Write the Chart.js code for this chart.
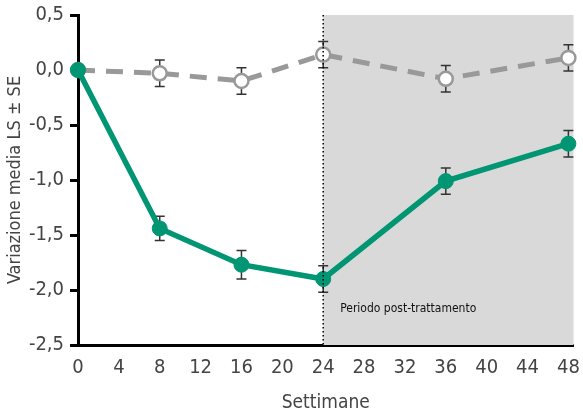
<!DOCTYPE html>
<html><head><meta charset="utf-8">
<script src="https://cdn.jsdelivr.net/npm/chart.js@4/dist/chart.umd.min.js"></script>
<style>html,body{margin:0;padding:0;background:#fff}#wrap{width:583px;height:414px}</style>
</head><body><div id="wrap"><canvas id="c" width="583" height="414"></canvas></div>
<script>
const weeks = [0, 8, 16, 24, 36, 48];
const treatment = [0, -1.44, -1.77, -1.90, -1.01, -0.67];
const treatmentSE = [0, 0.11, 0.13, 0.12, 0.12, 0.12];
const placebo = [0, -0.03, -0.10, 0.14, -0.08, 0.11];
const placeboSE = [0, 0.12, 0.12, 0.12, 0.12, 0.12];
const yTicks = [0.5, 0, -0.5, -1, -1.5, -2, -2.5];
const xTicks = [0, 4, 8, 12, 16, 20, 24, 28, 32, 36, 40, 44, 48];
const postStart = 24;
const annotation = 'Periodo post-trattamento';

const FONT = '"DejaVu Sans Condensed", "Liberation Sans Narrow", sans-serif';

const bgPlugin = {
  id: 'bg',
  beforeDatasetsDraw(chart) {
    const {ctx, chartArea, scales} = chart;
    const x0 = scales.x.getPixelForValue(postStart);
    ctx.save();
    ctx.fillStyle = '#d9d9d9';
    ctx.fillRect(x0, chartArea.top, chartArea.right - x0, chartArea.bottom - chartArea.top);
    ctx.strokeStyle = '#333';
    ctx.lineWidth = 1.5;
    const series = [[placebo, placeboSE], [treatment, treatmentSE]];
    series.forEach(([vals, se]) => {
      weeks.forEach((w, i) => {
        if (!se[i]) return;
        const x = scales.x.getPixelForValue(w);
        const yt = scales.y.getPixelForValue(vals[i] + se[i]);
        const yb = scales.y.getPixelForValue(vals[i] - se[i]);
        ctx.beginPath();
        ctx.moveTo(x, yt); ctx.lineTo(x, yb);
        ctx.moveTo(x - 5, yt); ctx.lineTo(x + 5, yt);
        ctx.moveTo(x - 5, yb); ctx.lineTo(x + 5, yb);
        ctx.stroke();
      });
    });
    ctx.restore();
  },
  afterDatasetsDraw(chart) {
    const {ctx, chartArea, scales} = chart;
    const x0 = scales.x.getPixelForValue(postStart);
    ctx.save();
    ctx.strokeStyle = '#000';
    ctx.lineWidth = 1.5;
    ctx.setLineDash([1.5, 2.5]);
    ctx.beginPath();
    ctx.moveTo(x0, chartArea.top);
    ctx.lineTo(x0, chartArea.bottom);
    ctx.stroke();
    ctx.setLineDash([]);
    ctx.fillStyle = '#111';
    ctx.font = '12px ' + FONT;
    ctx.textBaseline = 'middle';
    ctx.fillText(annotation, x0 + 17, chartArea.bottom - 36);
    ctx.restore();
  }
};

new Chart(document.getElementById('c'), {
  type: 'line',
  data: {
    datasets: [
      {
        data: weeks.map((w, i) => ({x: w, y: treatment[i]})),
        borderColor: '#009673',
        backgroundColor: '#009673',
        borderWidth: 5.5,
        pointRadius: 7.5,
        pointBorderWidth: 1,
        pointBackgroundColor: '#009673',
        pointBorderColor: '#009673',
        clip: false
      },
      {
        data: weeks.map((w, i) => ({x: w, y: placebo[i]})),
        borderColor: '#999',
        backgroundColor: '#fff',
        borderWidth: 5,
        borderDash: [17, 11],
        pointRadius: 7,
        pointBorderWidth: 2.5,
        pointBackgroundColor: '#fff',
        pointBorderColor: '#999',
        clip: false
      }
    ]
  },
  options: {
    responsive: false,
    animation: false,
    events: [],
    layout: {padding: {top: 15, right: 7, left: 0, bottom: 0}},
    plugins: {legend: {display: false}, tooltip: {enabled: false}},
    scales: {
      x: {
        type: 'linear',
        min: 0, max: 48.5,
        afterBuildTicks(s) { s.ticks = xTicks.map(v => ({value: v})); },
        afterFit(s) { s.height = 69; s.paddingLeft = 0; s.paddingRight = 0; },
        grid: {display: false},
        border: {display: true, color: '#000', width: 3},
        ticks: {color: '#444', font: {family: FONT, size: 20}, padding: 3, maxRotation: 0, autoSkip: false},
        title: {display: true, text: 'Settimane', color: '#444', font: {family: FONT, size: 19}, padding: {top: 4, bottom: 0}}
      },
      y: {
        min: -2.5, max: 0.5,
        afterBuildTicks(s) { s.ticks = yTicks.map(v => ({value: v})); },
        afterFit(s) { s.width = 78; s.paddingTop = 0; s.paddingBottom = 0; },
        grid: {drawOnChartArea: false, drawTicks: true, tickLength: 8, color: '#000', lineWidth: 3},
        border: {display: true, color: '#000', width: 3},
        ticks: {color: '#444', font: {family: FONT, size: 20}, padding: 6,
          callback: v => v.toFixed(1).replace('.', ',')},
        title: {display: true, text: 'Variazione media LS ± SE', color: '#444', font: {family: FONT, size: 18}, padding: {top: 5, bottom: 2}}
      }
    }
  },
  plugins: [bgPlugin]
});
</script></body></html>
